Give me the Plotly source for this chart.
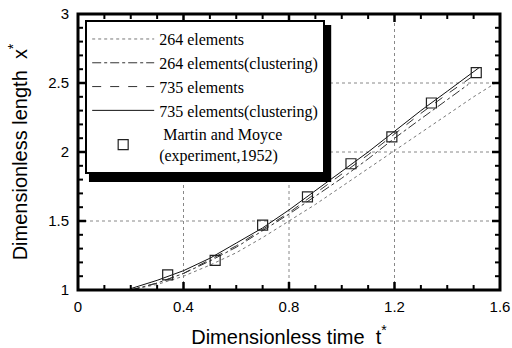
import plotly.graph_objects as go

# Martin and Moyce experimental data
exp_t = [0.34, 0.52, 0.70, 0.87, 1.035, 1.19, 1.34, 1.51]
exp_x = [1.11, 1.215, 1.47, 1.675, 1.915, 2.11, 2.355, 2.575]

# 264 elements
t264 = [0.20, 0.30, 0.40, 0.50, 0.60, 0.70, 0.80, 0.90, 1.00, 1.10, 1.20, 1.30, 1.40, 1.50, 1.60]
x264 = [1.00, 1.04, 1.10, 1.18, 1.27, 1.38, 1.50, 1.62, 1.75, 1.88, 2.01, 2.14, 2.27, 2.40, 2.52]

# 264 elements (clustering)
t264c = [0.20, 0.30, 0.40, 0.50, 0.60, 0.70, 0.80, 0.90, 1.00, 1.10, 1.20, 1.30, 1.40, 1.48]
x264c = [1.00, 1.05, 1.12, 1.21, 1.31, 1.43, 1.55, 1.68, 1.81, 1.95, 2.10, 2.24, 2.38, 2.49]

# 735 elements
t735 = [0.20, 0.30, 0.40, 0.50, 0.60, 0.70, 0.80, 0.90, 1.00, 1.10, 1.20, 1.30, 1.40, 1.52]
x735 = [1.00, 1.05, 1.12, 1.22, 1.32, 1.44, 1.56, 1.70, 1.84, 1.98, 2.13, 2.28, 2.42, 2.58]

# 735 elements (clustering)
t735c = [0.20, 0.30, 0.40, 0.50, 0.60, 0.70, 0.80, 0.90, 1.00, 1.10, 1.20, 1.30, 1.40, 1.52]
x735c = [1.01, 1.07, 1.14, 1.23, 1.34, 1.45, 1.58, 1.72, 1.86, 2.00, 2.15, 2.30, 2.44, 2.61]

# axis ticks
x_ticks = [0, 0.4, 0.8, 1.2, 1.6]
x_labels = ["0", "0.4", "0.8", "1.2", "1.6"]
x_minor = [0.1, 0.2, 0.3, 0.5, 0.6, 0.7, 0.9, 1.0, 1.1, 1.3, 1.4, 1.5]
y_ticks = [1, 1.5, 2, 2.5, 3]
y_labels = ["1", "1.5", "2", "2.5", "3"]
y_minor = [1.1, 1.2, 1.3, 1.4, 1.6, 1.7, 1.8, 1.9, 2.1, 2.2, 2.3, 2.4, 2.6, 2.7, 2.8, 2.9]

fig = go.Figure()
lc = "#333333"
fig.add_trace(go.Scatter(x=t264, y=x264, mode="lines", name="264 elements",
                         line=dict(color="#777777", width=1, dash="dot")))
fig.add_trace(go.Scatter(x=t264c, y=x264c, mode="lines", name="264 elements(clustering)",
                         line=dict(color=lc, width=1, dash="dashdot")))
fig.add_trace(go.Scatter(x=t735, y=x735, mode="lines", name="735 elements",
                         line=dict(color=lc, width=1, dash="dash")))
fig.add_trace(go.Scatter(x=t735c, y=x735c, mode="lines", name="735 elements(clustering)",
                         line=dict(color="#111111", width=1)))
fig.add_trace(go.Scatter(x=exp_t, y=exp_x, mode="markers",
                         name=" Martin and Moyce<br>(experiment,1952)",
                         marker=dict(symbol="square-open", size=10, color="#222222",
                                     line=dict(width=1.2))))

# dotted grid lines at the major ticks
for v in x_ticks[1:-1]:
    fig.add_shape(type="line", xref="x", yref="paper", x0=v, x1=v, y0=0, y1=1,
                  line=dict(color="#888888", width=1, dash="dot"), layer="below")
for v in y_ticks[1:-1]:
    fig.add_shape(type="line", xref="paper", yref="y", x0=0, x1=1, y0=v, y1=v,
                  line=dict(color="#888888", width=1, dash="dot"), layer="below")

# inward tick marks on all four sides, placed at the axis tick values
def xtick(v, length, width):
    for anchor, sign in ((0, 1), (1, -1)):
        fig.add_shape(type="line", xref="x", yref="paper", x0=v, x1=v,
                      ysizemode="pixel", yanchor=anchor, y0=0, y1=sign * length,
                      line=dict(color="black", width=width), layer="above")

def ytick(v, length, width):
    for anchor, sign in ((0, 1), (1, -1)):
        fig.add_shape(type="line", xref="paper", yref="y", y0=v, y1=v,
                      xsizemode="pixel", xanchor=anchor, x0=0, x1=sign * length,
                      line=dict(color="black", width=width), layer="above")

for v in x_ticks[1:-1]:
    xtick(v, 8, 2.5)
for v in x_minor:
    xtick(v, 5, 2)
for v in y_ticks[1:-1]:
    ytick(v, 8, 2.5)
for v in y_minor:
    ytick(v, 5, 2)

# heavy plot frame
fig.add_shape(type="rect", xref="paper", yref="paper", x0=0, x1=1, y0=0, y1=1,
              line=dict(color="black", width=3), fillcolor="rgba(0,0,0,0)", layer="above")

# legend shadow
fig.add_shape(type="rect", xref="paper", yref="paper",
              x0=0.026, x1=0.600, y0=0.391, y1=0.96,
              fillcolor="black", line=dict(width=0), layer="above")

fig.update_xaxes(range=[0, 1.6], tickmode="array", tickvals=x_ticks, ticktext=x_labels,
                 ticks="", showline=False, showgrid=False, zeroline=False,
                 automargin=False, ticklabeloverflow="allow", ticklabelstandoff=6,
                 tickfont=dict(family="Liberation Sans", size=15, color="black"),
                 title=dict(text="Dimensionless time  t<sup>*</sup>",
                            font=dict(family="Liberation Sans", size=20, color="black")))
fig.update_yaxes(range=[1, 3], tickmode="array", tickvals=y_ticks, ticktext=y_labels,
                 ticks="", showline=False, showgrid=False, zeroline=False,
                 automargin=False, ticklabelstandoff=8,
                 tickfont=dict(family="Liberation Sans", size=15, color="black"),
                 title=dict(text="Dimensionless length  x<sup>*</sup>",
                            font=dict(family="Liberation Sans", size=20, color="black")))

fig.update_layout(
    width=512, height=348,
    margin=dict(l=78, r=12, t=14, b=58),
    plot_bgcolor="white", paper_bgcolor="white",
    showlegend=True,
    legend=dict(x=0.017, y=0.978, xanchor="left", yanchor="top",
                bgcolor="white", bordercolor="black", borderwidth=2,
                font=dict(family="Liberation Serif", size=16, color="black"),
                tracegroupgap=0, itemwidth=62),
)

fig.write_html("out.html")
